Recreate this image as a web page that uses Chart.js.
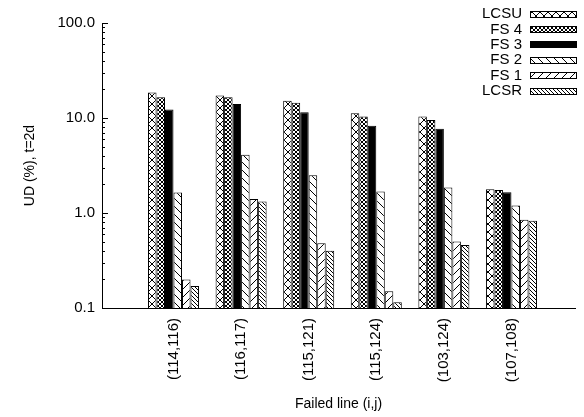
<!DOCTYPE html>
<html>
<head>
<meta charset="utf-8">
<script src="https://cdn.jsdelivr.net/npm/chart.js@4.4.0/dist/chart.umd.min.js"></script>
<style>
  body { margin: 0; background: #fff; }
  #wrap { width: 584px; height: 417px; }
</style>
</head>
<body>
<div id="wrap"><canvas id="myChart" width="584" height="417"></canvas></div>
<script>
const categories = ["(114,116)", "(116,117)", "(115,121)", "(115,124)", "(103,124)", "(107,108)"];
const seriesNames = ["LCSU", "FS 4", "FS 3", "FS 2", "FS 1", "LCSR"];
const lcsu = [18.6, 17.2, 15.2, 11.2, 10.4, 1.78];
const fs4 = [16.5, 16.5, 14.5, 10.4, 9.5, 1.75];
const fs3 = [12.3, 14.0, 11.5, 8.3, 7.7, 1.65];
const fs2 = [1.64, 4.1, 2.5, 1.68, 1.86, 1.2];
const fs1 = [0.2, 1.4, 0.48, 0.15, 0.5, 0.85];
const lcsr = [0.17, 1.32, 0.4, 0.115, 0.46, 0.83];
const yTicks = [0.1, 1, 10, 100];

const ctx = document.getElementById("myChart").getContext("2d");

// hatch fills for the bars
function hatch(size, dirs) {
  const c = document.createElement("canvas");
  c.width = size;
  c.height = size;
  const g = c.getContext("2d");
  g.fillStyle = "#fff";
  g.fillRect(0, 0, size, size);
  g.strokeStyle = "#000";
  g.lineWidth = 1;
  dirs.forEach(function (d) {
    g.beginPath();
    for (let k = -1; k <= 1; k++) {
      if (d === "\\") {
        g.moveTo(k * size, 0);
        g.lineTo(k * size + size, size);
      } else {
        g.moveTo(k * size, size);
        g.lineTo(k * size + size, 0);
      }
    }
    g.stroke();
  });
  return ctx.createPattern(c, "repeat");
}

const fills = [
  hatch(8, ["\\", "/"]),
  hatch(4, ["\\", "/"]),
  "#000",
  hatch(8, ["\\"]),
  hatch(8, ["/"]),
  hatch(4, ["\\"]),
];
const values = [lcsu, fs4, fs3, fs2, fs1, lcsr];

const datasets = values.map(function (vals, i) {
  return {
    label: seriesNames[i],
    data: vals.map(function (v, j) { return { x: j + 1, y: v }; }),
    backgroundColor: fills[i],
    borderColor: "#000",
    borderWidth: 1,
  };
});

// inward tick marks on the log axis + legend with boxes on the right
const extras = {
  id: "extras",
  afterDraw: function (chart) {
    const c = chart.ctx;
    const y = chart.scales.y;
    const left = chart.chartArea.left;
    c.save();
    c.strokeStyle = "#000";
    c.lineWidth = 1;
    c.beginPath();
    [0.1, 1, 10].forEach(function (d) {
      for (let k = 1; k <= 10; k++) {
        const py = Math.round(y.getPixelForValue(d * k)) + 0.5;
        const len = k === 1 || k === 10 ? 6 : 3;
        c.moveTo(left, py);
        c.lineTo(left + len, py);
      }
    });
    c.stroke();

    c.font = "15px 'Liberation Sans', Arial, sans-serif";
    c.textAlign = "right";
    c.textBaseline = "middle";
    c.fillStyle = "#000";
    chart.data.datasets.forEach(function (ds, i) {
      const cy = 14 + i * 15.4;
      c.fillText(ds.label, 522, cy);
      c.fillStyle = ds.backgroundColor;
      c.fillRect(530, Math.round(cy - 3.5), 47, 7);
      c.strokeRect(530.5, Math.round(cy - 3.5) + 0.5, 46, 6);
      c.fillStyle = "#000";
    });
    c.restore();
  },
};

const config = {
  type: "bar",
  data: { datasets: datasets },
  options: {
    responsive: false,
    animation: false,
    layout: { padding: { top: 23, right: 9, left: 0, bottom: 0 } },
    datasets: { bar: { categoryPercentage: 0.755, barPercentage: 1.0 } },
    plugins: { legend: { display: false }, tooltip: { enabled: false } },
    scales: {
      x: {
        type: "linear",
        offset: false,
        min: -0.058,
        max: 6.94,
        grid: { display: false, drawTicks: false, offset: false },
        border: { display: true, color: "#000", width: 1 },
        afterBuildTicks: function (scale) {
          scale.ticks = categories.map(function (c, i) { return { value: i + 1 }; });
        },
        afterFit: function (scale) {
          scale.height = 109;
        },
        ticks: {
          autoSkip: false,
          minRotation: 90,
          maxRotation: 90,
          padding: 10,
          color: "#000",
          font: { family: "'Liberation Sans', Arial, sans-serif", size: 15 },
          callback: function (value) {
            return categories[Math.round(value) - 1] || "";
          },
        },
        title: {
          display: true,
          text: "Failed line (i,j)",
          color: "#000",
          padding: { top: 0, bottom: 4 },
          font: { family: "'Liberation Sans', Arial, sans-serif", size: 14 },
        },
      },
      y: {
        type: "logarithmic",
        min: 0.1,
        max: 100,
        grid: { display: false, drawTicks: false },
        border: { display: true, color: "#000", width: 1 },
        afterFit: function (scale) {
          scale.width = 102;
        },
        ticks: {
          autoSkip: false,
          padding: 7,
          color: "#000",
          font: { family: "'Liberation Sans', Arial, sans-serif", size: 15 },
          callback: function (value) {
            const hit = yTicks.find(function (t) { return Math.abs(t - value) < 1e-9 * t; });
            return hit ? hit.toFixed(1) : "";
          },
        },
        title: {
          display: true,
          text: "UD (%), t=2d",
          color: "#000",
          padding: { top: 22, bottom: 0 },
          font: { family: "'Liberation Sans', Arial, sans-serif", size: 14 },
        },
      },
    },
  },
  plugins: [extras],
};

let myChart = new Chart(ctx, config);
</script>
</body>
</html>
